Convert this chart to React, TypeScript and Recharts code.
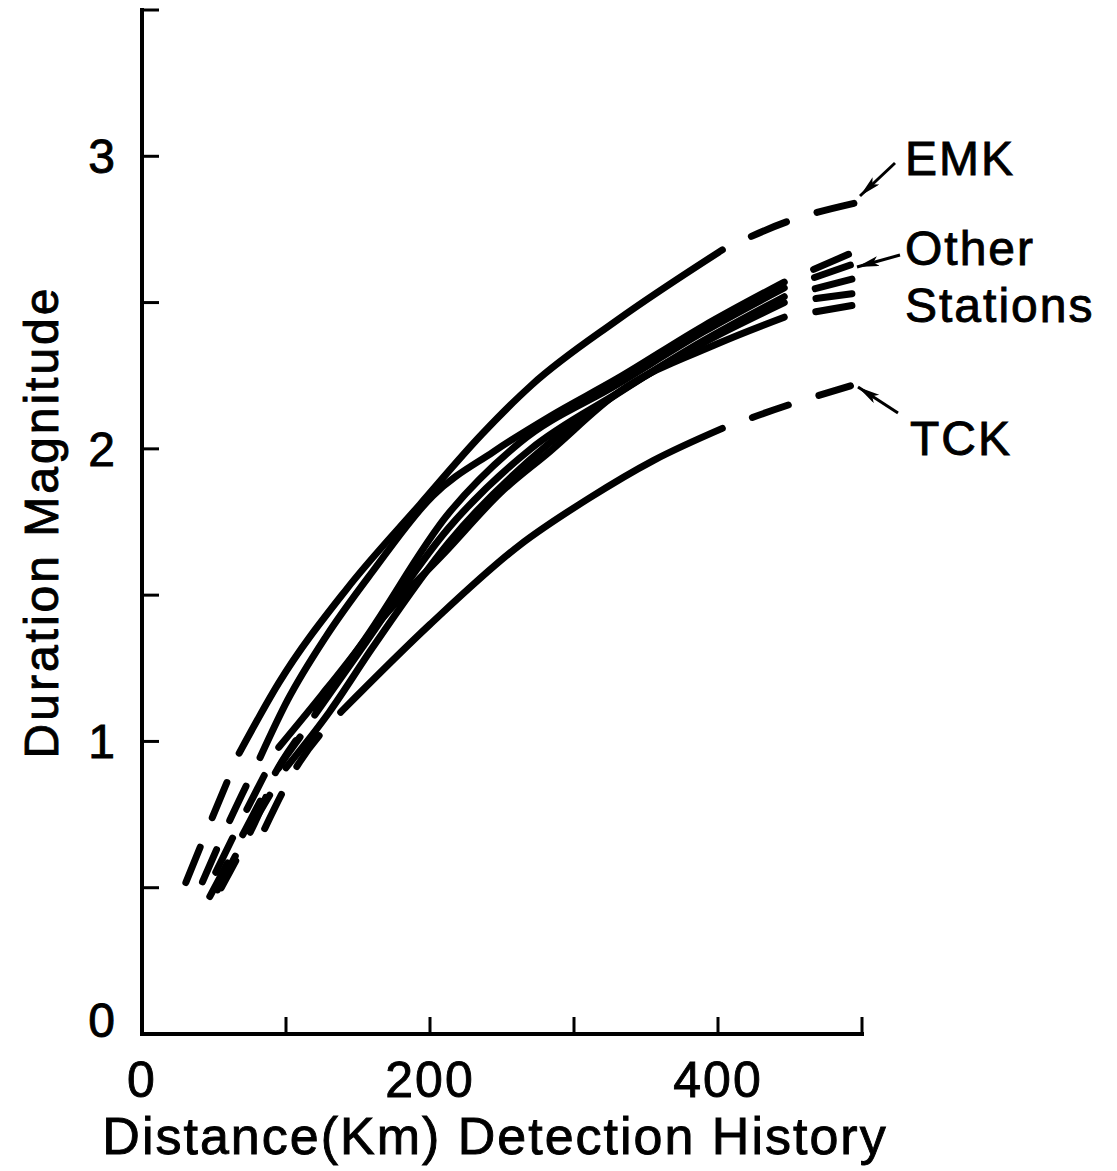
import React from 'react';
import { LineChart, Line, XAxis, YAxis } from 'recharts';

// axis ticks
const xTicks = [0, 100, 200, 300, 400, 500];
const xTickLabels: Record<number, string> = { 0: '0', 200: '200', 400: '400' };
const yTicks = [0, 0.5, 1, 1.5, 2, 2.5, 3, 3.5];
const yTickLabels: Record<number, string> = { 0: '0', 1: '1', 2: '2', 3: '3' };

// curves: distance (km) vs duration magnitude; solid = range drawn as a full line,
// outside of it the curve is dashed
const emkDistance = [29, 48, 67.5, 95, 142, 193, 236, 271, 330, 403, 450, 495];
const emkMagnitude = [0.5, 0.73, 0.96, 1.2, 1.52, 1.81, 2.05, 2.22, 2.44, 2.68, 2.78, 2.84];
const emkSolid = [67.5, 403];

const tckDistance = [85, 107, 138, 200, 262, 310, 355, 403, 449, 492];
const tckMagnitude = [0.7, 0.91, 1.1, 1.4, 1.67, 1.83, 1.96, 2.07, 2.15, 2.215];
const tckSolid = [138, 403];

const other1Distance = [42, 60, 82, 101, 128, 160, 202, 244, 283, 330, 390, 446, 493];
const other1Magnitude = [0.52, 0.72, 0.945, 1.14, 1.36, 1.58, 1.84, 1.99, 2.11, 2.24, 2.42, 2.57, 2.67];
const other1Solid = [82, 446];

const other2Distance = [44, 70, 95, 125, 149, 213, 262, 330, 390, 446, 493];
const other2Magnitude = [0.48, 0.74, 0.98, 1.16, 1.31, 1.78, 2.02, 2.22, 2.4, 2.55, 2.63];
const other2Solid = [95, 446];

const other3Distance = [46, 72, 97, 120, 150, 213, 270, 330, 390, 446, 493];
const other3Magnitude = [0.46, 0.7, 0.93, 1.09, 1.3, 1.73, 2.0, 2.19, 2.37, 2.52, 2.58];
const other3Solid = [120, 446];

const other4Distance = [50, 75, 100, 130, 160, 213, 283, 350, 446, 493];
const other4Magnitude = [0.47, 0.7, 0.91, 1.1, 1.32, 1.68, 2.02, 2.25, 2.5, 2.53];
const other4Solid = [100, 446];

const other5Distance = [55, 80, 94, 113, 121, 160, 213, 249, 283, 330, 400, 446, 493];
const other5Magnitude = [0.5, 0.74, 0.9, 1.04, 1.11, 1.38, 1.66, 1.85, 1.99, 2.19, 2.36, 2.45, 2.49];
const other5Solid = [121, 446];

const curves = [
  { id: 'emk', distance: emkDistance, magnitude: emkMagnitude, solid: emkSolid },
  { id: 'o1', distance: other1Distance, magnitude: other1Magnitude, solid: other1Solid },
  { id: 'o2', distance: other2Distance, magnitude: other2Magnitude, solid: other2Solid },
  { id: 'o3', distance: other3Distance, magnitude: other3Magnitude, solid: other3Solid },
  { id: 'o4', distance: other4Distance, magnitude: other4Magnitude, solid: other4Solid },
  { id: 'o5', distance: other5Distance, magnitude: other5Magnitude, solid: other5Solid },
  { id: 'tck', distance: tckDistance, magnitude: tckMagnitude, solid: tckSolid },
];

const FONT = '"Liberation Sans", Arial, Helvetica, sans-serif';
const LINE_W = 7;
const DASH = '38 32';
// slightly heavier lettering, like the original typeset labels
const textStyle = { fill: '#000', stroke: '#000', strokeWidth: 0.9 };

// split one curve into lower dashed / solid / upper dashed pieces
// (lower piece is reversed so its dashes start with a gap next to the solid part)
function pieces(distance: number[], magnitude: number[], solid: number[]) {
  const pts = distance.map((d, i) => ({ d, m: magnitude[i] }));
  return {
    lower: pts.filter((p) => p.d <= solid[0]).reverse(),
    middle: pts.filter((p) => p.d >= solid[0] && p.d <= solid[1]),
    upper: pts.filter((p) => p.d >= solid[1]),
  };
}

const YTick = (props: any) => {
  const { x, y, payload } = props;
  const label = yTickLabels[payload.value];
  return (
    <g>
      <line x1={x} x2={x + 17} y1={y} y2={y} stroke="#000" strokeWidth={3} />
      {label !== undefined && (
        <text
          x={x - 27}
          y={y + (payload.value === 0 ? 3 : 17)}
          textAnchor="end"
          fontSize={48}
          fontFamily={FONT}
          {...textStyle}
        >
          {label}
        </text>
      )}
    </g>
  );
};

const XTick = (props: any) => {
  const { x, y, payload } = props;
  const label = xTickLabels[payload.value];
  return (
    <g>
      {payload.value !== 0 && <line x1={x} x2={x} y1={y} y2={y - 17} stroke="#000" strokeWidth={3} />}
      {label !== undefined && (
        <text x={x} y={y + 63} textAnchor="middle" fontSize={50} fontFamily={FONT} letterSpacing={2} {...textStyle}>
          {label}
        </text>
      )}
    </g>
  );
};

const App = () => {
  const lines: React.ReactNode[] = [];
  curves.forEach((c) => {
    const p = pieces(c.distance, c.magnitude, c.solid);
    const common = {
      type: 'monotone' as const,
      dataKey: 'm',
      stroke: '#000',
      strokeWidth: LINE_W,
      strokeLinecap: 'round' as const,
      dot: false,
      activeDot: false,
      isAnimationActive: false,
    };
    lines.push(<Line key={c.id + '-lo'} {...common} data={p.lower} strokeDasharray={DASH} strokeDashoffset={38} />);
    lines.push(<Line key={c.id + '-mid'} {...common} data={p.middle} />);
    lines.push(<Line key={c.id + '-up'} {...common} data={p.upper} strokeDasharray={DASH} strokeDashoffset={38} />);
  });

  return (
    <div style={{ position: 'relative', width: 1100, height: 1160, background: '#fff' }}>
      <LineChart width={1100} height={1160} margin={{ top: 2, right: 246, bottom: 0, left: 0 }}>
        <XAxis
          dataKey="d"
          type="number"
          domain={[0, 500]}
          ticks={xTicks}
          interval={0}
          height={134}
          tickSize={0}
          tickMargin={0}
          tickLine={false}
          axisLine={{ stroke: '#000', strokeWidth: 4, strokeLinecap: 'square' }}
          tick={(p: any) => <XTick {...p} />}
          allowDataOverflow
        />
        <YAxis
          type="number"
          domain={[0, 3.5]}
          ticks={yTicks}
          interval={0}
          width={134}
          tickSize={0}
          tickMargin={0}
          tickLine={false}
          axisLine={{ stroke: '#000', strokeWidth: 4, strokeLinecap: 'square' }}
          tick={(p: any) => <YTick {...p} />}
          allowDataOverflow
        />
        {lines}
      </LineChart>

      <svg
        width={1100}
        height={1160}
        style={{ position: 'absolute', left: 0, top: 0, pointerEvents: 'none', overflow: 'visible' }}
        fontFamily={FONT}
      >
        <defs>
          <marker id="head" markerWidth={24} markerHeight={12} refX={22} refY={5} orient="auto" markerUnits="userSpaceOnUse">
            <path d="M0,0 L22,5 L0,10 L5,5 z" fill="#000" />
          </marker>
        </defs>
        <text transform="translate(50,514) rotate(-90)" textAnchor="middle" fontSize={48} letterSpacing={3} {...textStyle}>
          Duration Magnitude
        </text>
        <text x={487} y={1146} textAnchor="middle" fontSize={52} letterSpacing={2} {...textStyle}>
          Distance(Km) Detection History
        </text>

        <text x={897} y={167} fontSize={48} letterSpacing={2} {...textStyle}>EMK</text>
        <text x={897} y={257} fontSize={48} letterSpacing={2} {...textStyle}>Other</text>
        <text x={897} y={314} fontSize={48} letterSpacing={2} {...textStyle}>Stations</text>
        <text x={902} y={447} fontSize={48} letterSpacing={2} {...textStyle}>TCK</text>

        <line x1={887} y1={155} x2={852} y2={188} stroke="#000" strokeWidth={3} markerEnd="url(#head)" />
        <line x1={892} y1={247} x2={849} y2={259} stroke="#000" strokeWidth={3} markerEnd="url(#head)" />
        <line x1={890} y1={405} x2={850} y2={379} stroke="#000" strokeWidth={3} markerEnd="url(#head)" />
      </svg>
    </div>
  );
};

export default App;
